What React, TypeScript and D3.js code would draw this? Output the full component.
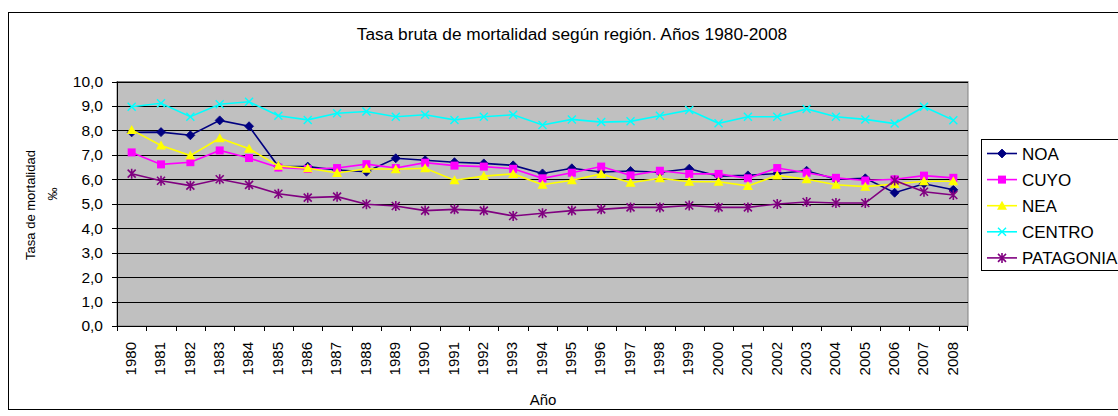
import React from "react";
import * as d3 from "d3";

const years = [
  "1980","1981","1982","1983","1984","1985","1986","1987","1988","1989",
  "1990","1991","1992","1993","1994","1995","1996","1997","1998","1999",
  "2000","2001","2002","2003","2004","2005","2006","2007","2008",
];

const noa = [7.92,7.93,7.8,8.41,8.17,6.52,6.52,6.38,6.31,6.86,6.78,6.7,6.65,6.57,6.24,6.45,6.3,6.34,6.29,6.43,6.13,6.16,6.24,6.35,6.0,6.04,5.45,5.82,5.57];
const cuyo = [7.1,6.61,6.7,7.18,6.87,6.48,6.42,6.46,6.62,6.46,6.68,6.56,6.52,6.43,6.04,6.27,6.52,6.16,6.35,6.22,6.22,6.04,6.46,6.27,6.06,5.95,6.0,6.15,6.06];
const nea = [8.02,7.38,6.97,7.68,7.25,6.55,6.45,6.26,6.43,6.41,6.45,5.96,6.13,6.22,5.78,5.96,6.22,5.86,6.04,5.9,5.9,5.73,6.16,6.0,5.78,5.7,5.81,5.92,5.92];
const centro = [8.97,9.11,8.56,9.07,9.17,8.6,8.43,8.7,8.77,8.56,8.64,8.43,8.56,8.64,8.22,8.45,8.34,8.37,8.6,8.83,8.29,8.56,8.56,8.88,8.56,8.45,8.28,8.97,8.42];
const patagonia = [6.23,5.94,5.74,6.0,5.77,5.41,5.25,5.29,4.98,4.91,4.72,4.77,4.72,4.5,4.61,4.72,4.77,4.85,4.85,4.93,4.85,4.85,4.99,5.07,5.03,5.03,5.95,5.49,5.36];

const yTicks = [0,1,2,3,4,5,6,7,8,9,10];

const seriesNames = ["NOA","CUYO","NEA","CENTRO","PATAGONIA"];
const seriesColors = ["#000080","#FF00FF","#FFFF00","#00FFFF","#800080"];
const seriesMarkers = ["diamond","square","triangle","x","star"];
const seriesData = [noa, cuyo, nea, centro, patagonia];

const FONT = "Arial, 'Liberation Sans', sans-serif";

function Marker({ type, x, y, color }: { type: string; x: number; y: number; color: string }) {
  if (type === "diamond") {
    const s = 4.5;
    return <path d={`M${x},${y - s}L${x + s},${y}L${x},${y + s}L${x - s},${y}Z`} fill={color} stroke={color} strokeWidth={0.8} />;
  }
  if (type === "square") {
    return <rect x={x - 4} y={y - 4} width={8} height={8} fill={color} />;
  }
  if (type === "triangle") {
    return <path d={`M${x},${y - 5}L${x + 5},${y + 4}L${x - 5},${y + 4}Z`} fill={color} />;
  }
  if (type === "x") {
    const s = 4;
    return <path d={`M${x - s},${y - s}L${x + s},${y + s}M${x - s},${y + s}L${x + s},${y - s}`} stroke={color} strokeWidth={1.4} fill="none" />;
  }
  const s = 4;
  return (
    <path
      d={`M${x - s},${y - s}L${x + s},${y + s}M${x - s},${y + s}L${x + s},${y - s}M${x},${y - s - 1}L${x},${y + s + 1}`}
      stroke={color}
      strokeWidth={1.6}
      fill="none"
    />
  );
}

export default function App() {
  const W = 1118, H = 416;
  const left = 117, right = 968, top = 81.5, bottom = 326;

  const x = d3.scaleBand<string>().domain(years).range([left, right]);
  const y = d3.scaleLinear().domain([0, 10]).range([bottom, top]);
  const cx = (yr: string) => (x(yr) as number) + x.bandwidth() / 2;

  const line = d3
    .line<number>()
    .x((_, i) => cx(years[i]))
    .y((d) => y(d));

  const legendX = 981, legendY = 139, legendW = 160, legendH = 131;
  const legendRows = seriesNames.map((_, i) => 153.5 + i * 26.1);

  return (
    <svg width={W} height={H} style={{ position: "absolute", left: 0, top: 0, display: "block" }}>
      <rect x={0} y={0} width={W} height={H} fill="#ffffff" />
      <rect x={8.5} y={12.5} width={1130} height={397} fill="#ffffff" stroke="#000000" strokeWidth={1} />

      <text x={572} y={40} textAnchor="middle" fontFamily={FONT} fontSize={17.3} fill="#000">
        Tasa bruta de mortalidad según región. Años 1980-2008
      </text>

      {/* plot area */}
      <rect x={left} y={top} width={right - left} height={bottom - top} fill="#C0C0C0" stroke="#808080" strokeWidth={1} />
      {yTicks.map((t) => (
        <line key={"g" + t} x1={left} x2={right} y1={Math.round(y(t)) + 0.5} y2={Math.round(y(t)) + 0.5} stroke="#000" strokeWidth={1} />
      ))}

      {/* y axis */}
      <line x1={left + 0.5} x2={left + 0.5} y1={top} y2={bottom + 0.5} stroke="#000" strokeWidth={1} />
      {yTicks.map((t) => (
        <g key={"yt" + t}>
          <line x1={left - 5} x2={left} y1={Math.round(y(t)) + 0.5} y2={Math.round(y(t)) + 0.5} stroke="#000" />
          <text x={103} y={y(t)} dy="0.35em" textAnchor="end" fontFamily={FONT} fontSize={15.5} fill="#000">
            {d3.format(".1f")(t).replace(".", ",")}
          </text>
        </g>
      ))}

      {/* x axis */}
      <line x1={left} x2={right} y1={Math.round(bottom) + 0.5} y2={Math.round(bottom) + 0.5} stroke="#000" />
      {years.map((yr) => (
        <line key={"xt" + yr} x1={Math.round(x(yr) as number) + 0.5} x2={Math.round(x(yr) as number) + 0.5} y1={bottom} y2={bottom + 5} stroke="#000" />
      ))}
      <line x1={right - 0.5} x2={right - 0.5} y1={bottom} y2={bottom + 5} stroke="#000" />
      {years.map((yr) => (
        <text
          key={"xl" + yr}
          transform={`translate(${cx(yr) - 1},342) rotate(-90)`}
          dy="0.35em"
          textAnchor="end"
          fontFamily={FONT}
          fontSize={15}
          fill="#000"
        >
          {yr}
        </text>
      ))}

      <text x={543} y={405} textAnchor="middle" fontFamily={FONT} fontSize={15} fill="#000">
        Año
      </text>

      <text transform="translate(35,205) rotate(-90)" textAnchor="middle" fontFamily={FONT} fontSize={13} fill="#000">
        Tasa de mortalidad
      </text>
      <text transform="translate(57,194) rotate(-90)" textAnchor="middle" fontFamily={FONT} fontSize={13} fill="#000">
        ‰
      </text>

      {/* series */}
      {seriesData.map((data, si) => (
        <g key={"s" + si}>
          <path d={line(data) || ""} fill="none" stroke={seriesColors[si]} strokeWidth={1.6} />
          {data.map((v, i) => (
            <Marker key={i} type={seriesMarkers[si]} x={cx(years[i])} y={y(v)} color={seriesColors[si]} />
          ))}
        </g>
      ))}

      {/* legend */}
      <rect x={legendX + 0.5} y={legendY + 0.5} width={legendW} height={legendH} fill="#fff" stroke="#000" />
      {seriesNames.map((name, i) => (
        <g key={"lg" + name}>
          <line x1={987} x2={1017} y1={legendRows[i]} y2={legendRows[i]} stroke={seriesColors[i]} strokeWidth={1.6} />
          <Marker type={seriesMarkers[i]} x={1002} y={legendRows[i]} color={seriesColors[i]} />
          <text x={1022} y={legendRows[i]} dy="0.36em" fontFamily={FONT} fontSize={17} fill="#000">
            {name}
          </text>
        </g>
      ))}
    </svg>
  );
}
